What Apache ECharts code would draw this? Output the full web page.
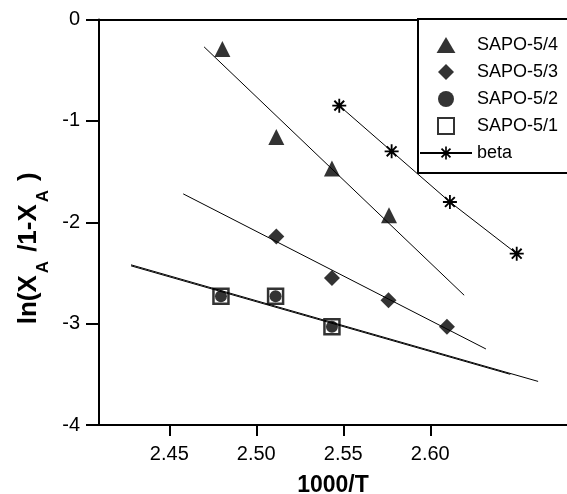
<!DOCTYPE html>
<html>
<head>
<meta charset="utf-8">
<title>ln(XA/1-XA) vs 1000/T</title>
<script src="https://cdn.jsdelivr.net/npm/echarts@6/dist/echarts.min.js"></script>
<style>
  html, body { margin: 0; padding: 0; background: #fff; }
  #main { width: 567px; height: 494px; }
</style>
</head>
<body>
<div id="main"></div>
<script>
// 数据
var xTicks = [2.45, 2.50, 2.55, 2.60];

var sapo54X = [2.4805, 2.5115, 2.5435, 2.5763];
var sapo54Y = [-0.29, -1.16, -1.47, -1.93];
var sapo53X = [2.5115, 2.5435, 2.5760, 2.6096];
var sapo53Y = [-2.14, -2.55, -2.77, -3.03];
var sapo52X = [2.4797, 2.5111, 2.5435];
var sapo52Y = [-2.73, -2.73, -3.03];
var sapo51X = [2.4797, 2.5111, 2.5435];
var sapo51Y = [-2.73, -2.73, -3.03];
var betaX = [2.5477, 2.5778, 2.6113, 2.6497];
var betaY = [-0.85, -1.30, -1.80, -2.31];

// fitted lines, two end points each
var fit54X = [2.470, 2.6195];
var fit54Y = [-0.27, -2.72];
var fit53X = [2.458, 2.632];
var fit53Y = [-1.72, -3.25];
var fit52X = [2.428, 2.662];
var fit52Y = [-2.42, -3.57];
var fit51X = [2.428, 2.646];
var fit51Y = [-2.43, -3.50];

function pairs(xs, ys) {
  return xs.map(function (x, i) { return [x, ys[i]]; });
}

// asterisk made of four thin bars
var starPath = 'path://M0 8.7L20 8.7L20 11.3L0 11.3Z M8.7 0L11.3 0L11.3 20L8.7 20Z ' +
  'M2 4L4 2L18 16L16 18Z M16 2L18 4L4 18L2 16Z';
// legend icons that keep their aspect
var triIcon = 'path://M10 0L20 17L0 17Z';
var diaIcon = 'path://M10 0L20 10L10 20L0 10Z';
var sqIcon = 'path://M0 0L20 0L20 20L0 20Z';

var font = 'Liberation Sans, Arial, sans-serif';

function fitLine(xs, ys) {
  return {
    type: 'line',
    data: pairs(xs, ys),
    symbol: 'none',
    silent: true,
    lineStyle: { color: '#000', width: 1 },
    z: 1
  };
}

var myChart = echarts.init(document.getElementById('main'));
var option = {
  backgroundColor: '#fff',
  animation: false,
  textStyle: { fontFamily: font },
  grid: { left: 99, right: 0, top: 19.5, bottom: 69, outerBoundsMode: 'none' },
  legend: {
    orient: 'vertical',
    left: 418,
    top: 19,
    padding: [17, 30, 11, 1],
    itemGap: 9,
    itemWidth: 52,
    itemHeight: 16,
    symbolKeepAspect: true,
    backgroundColor: '#fff',
    borderColor: '#000',
    borderWidth: 2,
    borderRadius: 0,
    textStyle: { fontFamily: font, fontSize: 18, color: '#000' },
    data: [
      { name: 'SAPO-5/4', icon: triIcon },
      { name: 'SAPO-5/3', icon: diaIcon },
      { name: 'SAPO-5/2', icon: 'circle' },
      { name: 'SAPO-5/1', icon: sqIcon },
      { name: 'beta' }
    ]
  },
  xAxis: [
    {
      type: 'value',
      min: 2.4096,
      max: 2.6786,
      name: '1000/T',
      nameLocation: 'middle',
      nameGap: 49,
      nameTextStyle: { fontFamily: font, fontSize: 23, fontWeight: 'bold', color: '#000' },
      axisLine: { show: true, onZero: false, lineStyle: { color: '#000', width: 2 } },
      axisTick: { show: true, length: 11, customValues: xTicks, lineStyle: { color: '#000', width: 2 } },
      axisLabel: {
        customValues: xTicks,
        margin: 19,
        fontSize: 20,
        color: '#000',
        formatter: function (v) { return v.toFixed(2); }
      },
      splitLine: { show: false }
    },
    {
      // top frame line
      type: 'value',
      position: 'top',
      min: 2.4096,
      max: 2.6786,
      axisLine: { show: true, onZero: false, lineStyle: { color: '#000', width: 2 } },
      axisTick: { show: false },
      axisLabel: { show: false },
      splitLine: { show: false }
    }
  ],
  yAxis: {
    type: 'value',
    min: -4,
    max: 0,
    interval: 1,
    name: '{m|ln(X}{s|A}{m|/1-X}{s|A}{m|)}',
    nameLocation: 'middle',
    nameGap: 54,
    nameTextStyle: {
      padding: [0, 52, 0, 0],
      rich: {
        m: { fontFamily: font, fontSize: 26, fontWeight: 'bold', color: '#000', lineHeight: 26, verticalAlign: 'top' },
        s: { fontFamily: font, fontSize: 17, fontWeight: 'bold', color: '#000', lineHeight: 17, verticalAlign: 'top', padding: [18, 9, 0, 2] }
      }
    },
    axisLine: { show: true, onZero: false, lineStyle: { color: '#000', width: 2 } },
    axisTick: { show: true, length: 13, lineStyle: { color: '#000', width: 2 } },
    axisLabel: { margin: 19, fontSize: 20, color: '#000', showMinLabel: true, showMaxLabel: true },
    splitLine: { show: false }
  },
  series: [
    fitLine(fit54X, fit54Y),
    fitLine(fit53X, fit53Y),
    fitLine(fit52X, fit52Y),
    fitLine(fit51X, fit51Y),
    {
      name: 'SAPO-5/4',
      type: 'scatter',
      symbol: 'triangle',
      symbolSize: 16,
      itemStyle: { color: '#000' },
      data: pairs(sapo54X, sapo54Y),
      z: 3
    },
    {
      name: 'SAPO-5/3',
      type: 'scatter',
      symbol: 'diamond',
      symbolSize: 16,
      itemStyle: { color: '#000' },
      data: pairs(sapo53X, sapo53Y),
      z: 3
    },
    {
      name: 'SAPO-5/2',
      type: 'scatter',
      symbol: 'circle',
      symbolSize: 12,
      itemStyle: { color: '#000' },
      data: pairs(sapo52X, sapo52Y),
      z: 3
    },
    {
      name: 'SAPO-5/1',
      type: 'scatter',
      symbol: 'rect',
      symbolSize: 15,
      itemStyle: { color: 'rgba(0,0,0,0)', borderColor: '#000', borderWidth: 2.5 },
      data: pairs(sapo51X, sapo51Y),
      z: 4
    },
    {
      name: 'beta',
      type: 'line',
      symbol: starPath,
      symbolSize: 14,
      showAllSymbol: true,
      itemStyle: { color: '#000' },
      lineStyle: { color: '#000', width: 1 },
      data: pairs(betaX, betaY),
      z: 3
    }
  ]
};
option && myChart.setOption(option);
</script>
</body>
</html>
